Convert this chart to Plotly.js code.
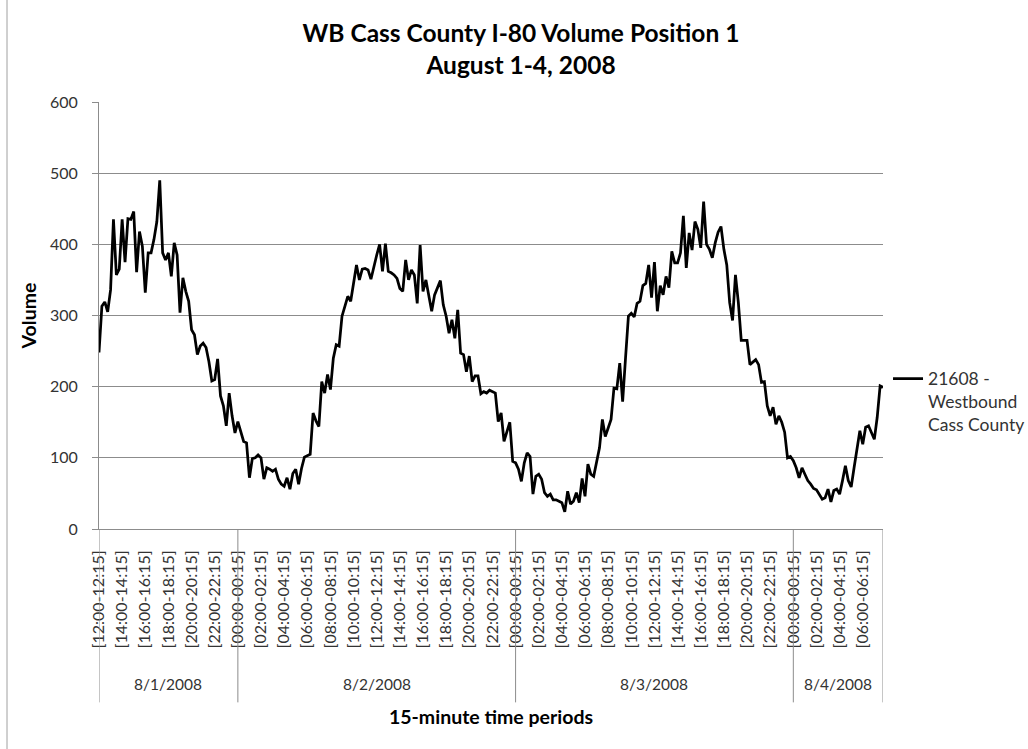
<!DOCTYPE html>
<html>
<head>
<meta charset="utf-8">
<script src="https://cdn.plot.ly/plotly-3.0.1.min.js"></script>
<style>
  html, body { margin: 0; padding: 0; background: #fff; }
  #chart { width: 1028px; height: 749px; }
</style>
</head>
<body>
<div id="chart"></div>
<script>
// ---- data ----
const dates = ['8/1/2008', '8/2/2008', '8/3/2008', '8/4/2008'];
const dayCounts = [48, 96, 96, 32];

const tickLabels = [
  '[12:00-12:15]', '[14:00-14:15]', '[16:00-16:15]', '[18:00-18:15]', '[20:00-20:15]', '[22:00-22:15]',
  '[00:00-00:15]', '[02:00-02:15]', '[04:00-04:15]', '[06:00-06:15]', '[08:00-08:15]', '[10:00-10:15]',
  '[12:00-12:15]', '[14:00-14:15]', '[16:00-16:15]', '[18:00-18:15]', '[20:00-20:15]', '[22:00-22:15]',
  '[00:00-00:15]', '[02:00-02:15]', '[04:00-04:15]', '[06:00-06:15]', '[08:00-08:15]', '[10:00-10:15]',
  '[12:00-12:15]', '[14:00-14:15]', '[16:00-16:15]', '[18:00-18:15]', '[20:00-20:15]', '[22:00-22:15]',
  '[00:00-00:15]', '[02:00-02:15]', '[04:00-04:15]', '[06:00-06:15]'
];
const tickEvery = 8;

const vol_0801 = [248,313,319,305,336,435,357,365,435,375,436,435,446,361,418,397,332,388,388,407,
  432,490,388,378,388,355,402,385,304,353,334,320,280,273,245,257,261,255,235,208,
  210,239,187,173,145,191,159,135];
const vol_0802 = [151,137,123,121,72,99,100,104,100,70,86,84,81,84,70,63,60,72,56,78,
  84,63,85,101,103,105,163,152,144,207,191,217,196,240,259,257,299,313,327,320,
  345,371,350,365,366,364,351,369,
  385,400,362,401,362,360,357,352,338,334,378,350,364,357,317,399,334,350,328,306,
  329,340,349,315,299,275,294,268,308,247,245,221,243,207,215,215,190,193,191,195,
  193,191,151,163,123,137,150,95];
const vol_0803 = [93,84,67,93,107,102,49,74,77,70,51,46,49,41,41,39,37,24,53,35,
  39,51,37,71,46,91,77,74,93,114,154,130,142,154,198,197,233,179,240,299,
  303,298,317,320,342,345,371,325,
  375,306,342,329,355,339,390,374,374,388,440,367,416,392,432,421,395,460,400,393,
  381,402,417,425,393,371,318,293,357,318,265,265,265,231,235,238,231,206,207,173,
  159,171,147,159,150,136,100,102];
const vol_0804 = [96,86,72,86,77,68,63,57,55,49,42,44,56,38,54,56,49,68,89,68,
  59,86,114,138,119,143,145,136,126,157,201,199];

const seriesName = '21608 -<br>Westbound<br>Cass County';

// ---- build ----
const volume = [].concat(vol_0801, vol_0802, vol_0803, vol_0804);
const idx = volume.map((_, i) => i);
const last = volume.length - 1;
const tickVals = tickLabels.map((_, k) => k * tickEvery);

const bounds = [0];
dayCounts.forEach(c => bounds.push(Math.min(bounds[bounds.length - 1] + c, last)));

const FONT = 'Lato, "Open Sans", sans-serif';
const TXT = '#333333';
const GRID = '#8c8c8c';

const shapes = bounds.map(b => ({
  type: 'line', xref: 'x', yref: 'paper',
  x0: b, x1: b, y0: 0, y1: -0.406,
  line: { color: GRID, width: 1 }
}));
// chart-area frame on the left
shapes.push({
  type: 'line', xref: 'paper', yref: 'paper',
  x0: (7 - 99) / 784, x1: (7 - 99) / 784, y0: -0.52, y1: 1.25,
  line: { color: '#a0a0a0', width: 1 }
});

const annotations = dates.map((d, k) => ({
  text: d, xref: 'x', yref: 'paper',
  x: (bounds[k] + bounds[k + 1]) / 2, y: -0.364,
  xanchor: 'center', yanchor: 'middle', showarrow: false,
  font: { family: FONT, size: 15.5, color: TXT }
}));

const trace = {
  x: idx, y: volume, type: 'scatter', mode: 'lines',
  name: seriesName,
  line: { color: '#000000', width: 2.75 },
  hoverinfo: 'skip'
};

const layout = {
  width: 1028, height: 749,
  margin: { l: 99, r: 145, t: 102, b: 220, autoexpand: false },
  paper_bgcolor: '#ffffff', plot_bgcolor: '#ffffff',
  font: { family: FONT, color: TXT },
  title: {
    text: 'WB Cass County I-80 Volume Position 1<br>August 1-4, 2008',
    font: { family: FONT, size: 24.5, weight: 'bold', color: '#000000' },
    xref: 'container', x: 521 / 1028, xanchor: 'center',
    yref: 'container', y: 1 - 42 / 749, yanchor: 'top'
  },
  xaxis: {
    range: [0, last],
    tickmode: 'array', tickvals: tickVals, ticktext: tickLabels,
    tickangle: -90, ticks: '',
    tickfont: { family: FONT, size: 16, color: TXT },
    ticklabelstandoff: 14,
    showgrid: false, zeroline: false,
    showline: true, linecolor: GRID, linewidth: 1,
    title: {
      text: '15-minute time periods',
      font: { family: FONT, size: 19.5, weight: 'bold', color: '#000000' },
      standoff: 62
    },
    fixedrange: true
  },
  yaxis: {
    range: [0, 600], tick0: 0, dtick: 100,
    showgrid: true, gridcolor: GRID, gridwidth: 1,
    zeroline: false,
    showline: true, linecolor: GRID, linewidth: 1,
    ticks: 'outside', ticklen: 6, tickcolor: GRID,
    tickfont: { family: FONT, size: 16, color: TXT },
    ticklabelstandoff: 11,
    title: {
      text: 'Volume',
      font: { family: FONT, size: 19.5, weight: 'bold', color: '#000000' },
      standoff: 8
    },
    fixedrange: true
  },
  showlegend: true,
  legend: {
    x: 1.0064, xanchor: 'left', y: 0.394, yanchor: 'top',
    valign: 'top', itemwidth: 30,
    font: { family: FONT, size: 17.5, color: TXT },
    bgcolor: 'rgba(0,0,0,0)', borderwidth: 0
  },
  shapes: shapes,
  annotations: annotations,
  hovermode: false
};

Plotly.newPlot('chart', [trace], layout, { displayModeBar: false, staticPlot: true });
</script>
</body>
</html>
